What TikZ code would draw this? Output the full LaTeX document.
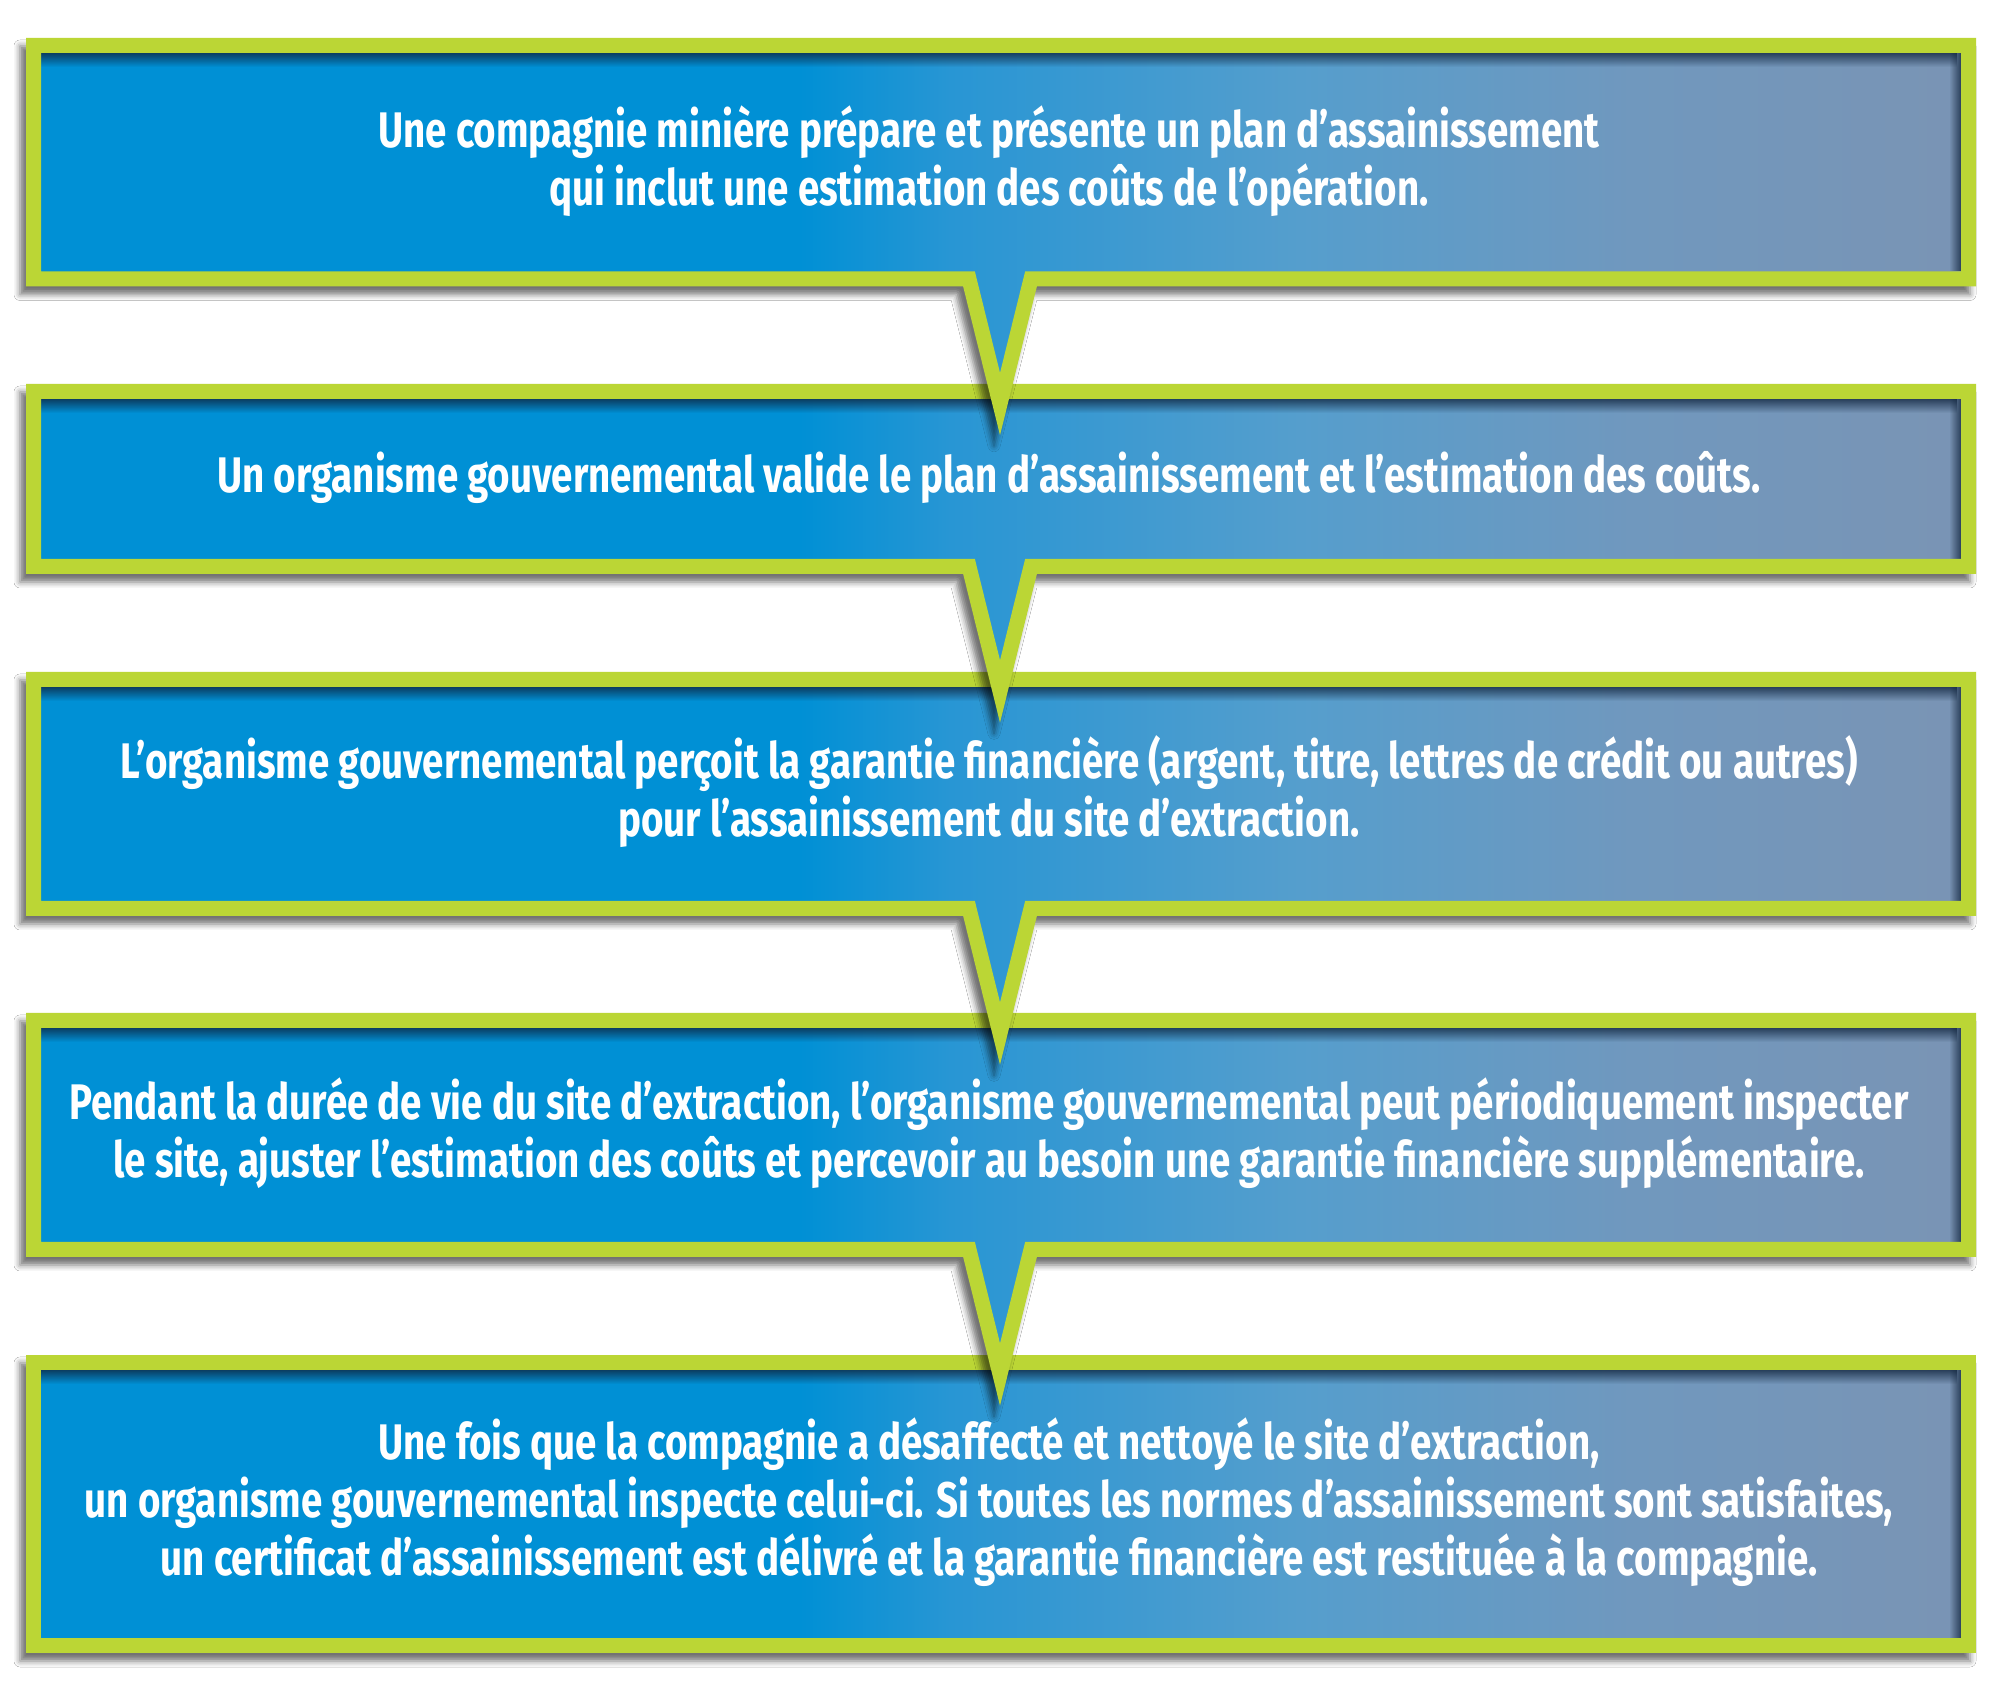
\documentclass[tikz,border=0pt]{standalone}
\usepackage{fontspec}
\setmainfont{Fira Sans}[FakeStretch=0.77]
\usetikzlibrary{shadows.blur,fadings}
\definecolor{lime}{RGB}{187,214,53}
\definecolor{blueL}{RGB}{0,144,213}
\definecolor{blueA}{RGB}{40,150,212}
\definecolor{blueM}{RGB}{85,158,205}
\definecolor{blueN}{RGB}{112,152,190}
\definecolor{blueR}{RGB}{122,148,180}
\definecolor{innerdark}{RGB}{15,35,60}
\pgfdeclarehorizontalshading{boxgrad}{100bp}{color(0bp)=(blueL); color(25bp)=(blueL); color(44.8bp)=(blueL); color(48.7bp)=(blueA); color(57.7bp)=(blueM); color(66.3bp)=(blueN); color(75bp)=(blueR); color(100bp)=(blueR)}
\tikzset{
  boxline/.style={draw=lime, line width=7.5pt, line join=miter},
  boxfill/.style={shading=boxgrad},
  boxshadow/.style={blur shadow={shadow xshift=-3pt, shadow yshift=-4pt, shadow blur radius=3pt, shadow opacity=55}},
  innertop/.style={fill=innerdark, fill opacity=0.75, path fading=south},
  innerright/.style={fill=innerdark, fill opacity=0.75, path fading=west},
  steptext/.style={text=white, align=center, inner sep=0pt, font=\bfseries\fontsize{25}{29}\selectfont}
}
% box with pointer: #1 top, #2 bottom (y up, stroke centre line)
\newcommand\ptrbox[2]{%
  \path[boxshadow] (26,#2-7.5) -- (962,#2-7.5) -- (1000,#2-159) -- (1038,#2-7.5) -- (1976,#2-7.5) -- (1976,#1+7.5) -- (26,#1+7.5) -- cycle;
  \path[boxfill] (33.5,#2) -- (969,#2) -- (1000,#2-125) -- (1031,#2) -- (1968.5,#2) -- (1968.5,#1) -- (33.5,#1) -- cycle;
  \path[innertop] (41,#1-21.5) rectangle (1961,#1-7.5);
  \path[innerright] (1949,#2+7.5) rectangle (1961,#1-7.5);
  \path[boxline] (33.5,#2) -- (969,#2) -- (1000,#2-125) -- (1031,#2) -- (1968.5,#2) -- (1968.5,#1) -- (33.5,#1) -- cycle;
}
\newcommand\finalbox[2]{%
  \path[boxshadow] (26,#2-7.5) rectangle (1976,#1+7.5);
  \path[boxfill] (33.5,#2) rectangle (1968.5,#1);
  \path[innertop] (41,#1-21.5) rectangle (1961,#1-7.5);
  \path[innerright] (1949,#2+7.5) rectangle (1961,#1-7.5);
  \path[boxline] (33.5,#2) rectangle (1968.5,#1);
}
\begin{document}
\begin{tikzpicture}[x=0.5pt,y=0.5pt]
\useasboundingbox (0,0) rectangle (1990,1680);
\fill[white] (0,0) rectangle (1990,1680);
% boxes, drawn from the bottom up so that each pointer lies over the next box
\finalbox{317.5}{34.5}
\ptrbox{659.5}{430.5}
\ptrbox{1000.5}{771.5}
\ptrbox{1288.5}{1113.5}
\ptrbox{1634.5}{1401}
% texts
\node[steptext] (t1) at (989,1519) {Une compagnie minière prépare et présente un plan d’assainissement\\qui inclut une estimation des coûts de l’opération.};
\node[steptext] (t2) at (989,1202) {Un organisme gouvernemental valide le plan d’assainissement et l’estimation des coûts.};
\node[steptext] (t3) at (989,888) {L’organisme gouvernemental perçoit la garantie financière (argent, titre, lettres de crédit ou autres)\\pour l’assainissement du site d’extraction.};
\node[steptext] (t4) at (989,547) {Pendant la durée de vie du site d’extraction, l’organisme gouvernemental peut périodiquement inspecter\\le site, ajuster l’estimation des coûts et percevoir au besoin une garantie financière supplémentaire.};
\node[steptext] (t5) at (989,178) {Une fois que la compagnie a désaffecté et nettoyé le site d’extraction,\\un organisme gouvernemental inspecte celui-ci. Si toutes les normes d’assainissement sont satisfaites,\\un certificat d’assainissement est délivré et la garantie financière est restituée à la compagnie.};
\end{tikzpicture}
\end{document}
